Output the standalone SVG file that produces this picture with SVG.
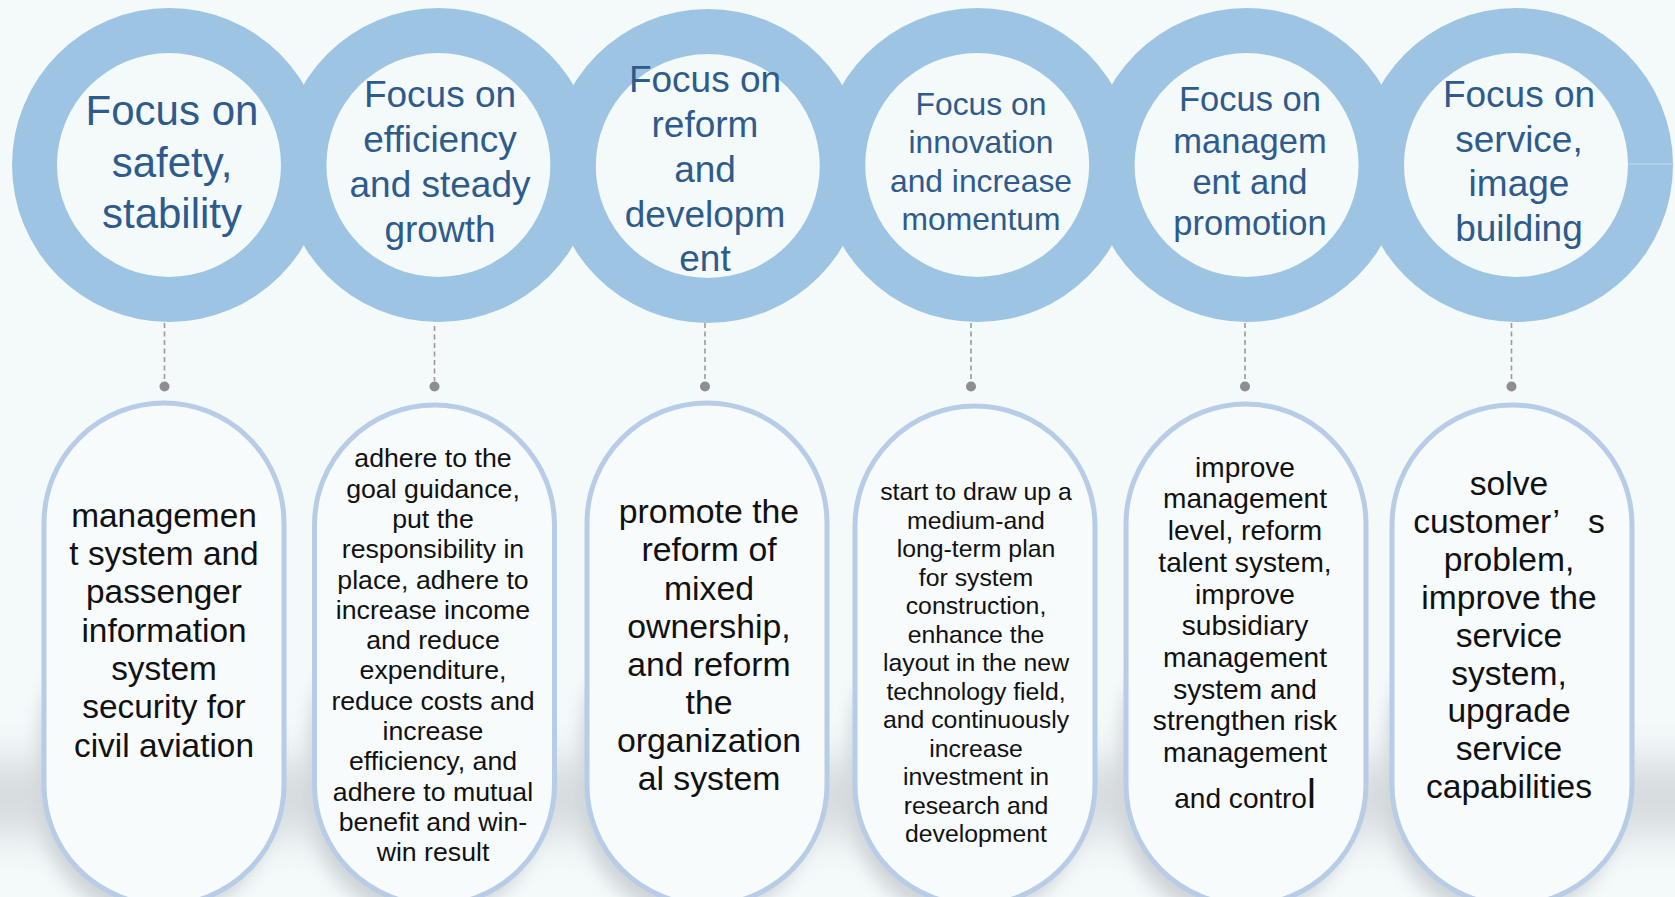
<svg xmlns="http://www.w3.org/2000/svg" width="1675" height="897" viewBox="0 0 1675 897">
<defs>
<style>
.ring{fill:#9DC5E3;fill-rule:evenodd}
.rt{font-family:"Liberation Sans",Arial,sans-serif;fill:#2E5B8C;text-anchor:middle}
.pill{fill:#F7FBFC;stroke:#B7CCE6;stroke-width:5}
.pt{font-family:"Liberation Sans",Arial,sans-serif;fill:#111;text-anchor:middle}
.dash{stroke:#9A9A9A;stroke-width:1.6;stroke-dasharray:5 3.5;fill:none}
.dot{fill:#8E8E8E}
.shadow{fill:#CDD3D7}
</style>
<filter id="blurBig" x="-10%" y="-100%" width="120%" height="300%"><feGaussianBlur stdDeviation="20"/></filter>
<filter id="blurSm" x="-20%" y="-20%" width="140%" height="140%"><feGaussianBlur stdDeviation="9"/></filter>
</defs>
<rect width="1675" height="897" fill="#F4F9FA"/>
<g id="floor-shadow">
<rect x="-60" y="760" width="1800" height="75" fill="#D7DCDF" filter="url(#blurBig)"/>
<rect x="40" y="620" width="232" height="300" rx="116" class="shadow" filter="url(#blurSm)"/>
<rect x="310" y="620" width="232" height="300" rx="116" class="shadow" filter="url(#blurSm)"/>
<rect x="582" y="620" width="232" height="300" rx="116" class="shadow" filter="url(#blurSm)"/>
<rect x="851" y="620" width="232" height="300" rx="116" class="shadow" filter="url(#blurSm)"/>
<rect x="1121" y="620" width="232" height="300" rx="116" class="shadow" filter="url(#blurSm)"/>
<rect x="1388" y="620" width="232" height="300" rx="116" class="shadow" filter="url(#blurSm)"/>
</g>
<g id="ring1">
<path class="ring" d="M12,165a157,157 0 1,0 314,0a157,157 0 1,0 -314,0ZM57,165a112,112 0 1,0 224,0a112,112 0 1,0 -224,0Z"/>
<text class="rt" font-size="42"><tspan x="172" y="125">Focus on</tspan><tspan x="172" y="177">safety,</tspan><tspan x="172" y="228">stability</tspan></text>
</g>
<g id="ring2">
<path class="ring" d="M281.4,165a157,157 0 1,0 314,0a157,157 0 1,0 -314,0ZM326.4,165a112,112 0 1,0 224,0a112,112 0 1,0 -224,0Z"/>
<text class="rt" font-size="37"><tspan x="440" y="107">Focus on</tspan><tspan x="440" y="152">efficiency</tspan><tspan x="440" y="197">and steady</tspan><tspan x="440" y="242">growth</tspan></text>
</g>
<g id="ring3">
<path class="ring" d="M550.8,166a157,157 0 1,0 314,0a157,157 0 1,0 -314,0ZM595.8,166a112,112 0 1,0 224,0a112,112 0 1,0 -224,0Z"/>
<text class="rt" font-size="37"><tspan x="705" y="92">Focus on</tspan><tspan x="705" y="137">reform</tspan><tspan x="705" y="182">and</tspan><tspan x="705" y="227">developm</tspan><tspan x="705" y="271">ent</tspan></text>
</g>
<g id="ring4">
<path class="ring" d="M820.2,165a157,157 0 1,0 314,0a157,157 0 1,0 -314,0ZM865.2,165a112,112 0 1,0 224,0a112,112 0 1,0 -224,0Z"/>
<text class="rt" font-size="31.8"><tspan x="981" y="115">Focus on</tspan><tspan x="981" y="153">innovation</tspan><tspan x="981" y="192">and increase</tspan><tspan x="981" y="230">momentum</tspan></text>
</g>
<g id="ring5">
<path class="ring" d="M1089.6,165a157,157 0 1,0 314,0a157,157 0 1,0 -314,0ZM1134.6,165a112,112 0 1,0 224,0a112,112 0 1,0 -224,0Z"/>
<text class="rt" font-size="34.5"><tspan x="1250" y="111">Focus on</tspan><tspan x="1250" y="153">managem</tspan><tspan x="1250" y="194">ent and</tspan><tspan x="1250" y="235">promotion</tspan></text>
</g>
<g id="ring6">
<path class="ring" d="M1359,165a157,157 0 1,0 314,0a157,157 0 1,0 -314,0ZM1404,165a112,112 0 1,0 224,0a112,112 0 1,0 -224,0Z"/>
<line x1="1628" y1="164" x2="1674" y2="164" stroke="#C4DBEE" stroke-width="1"/>
<text class="rt" font-size="37"><tspan x="1519" y="107">Focus on</tspan><tspan x="1519" y="152">service,</tspan><tspan x="1519" y="196">image</tspan><tspan x="1519" y="241">building</tspan></text>
</g>
<g id="connectors">
<line class="dash" x1="164.5" y1="323" x2="164.5" y2="381"/>
<line class="dash" x1="434.5" y1="326" x2="434.5" y2="381"/>
<line class="dash" x1="705" y1="323" x2="705" y2="381"/>
<line class="dash" x1="971" y1="323" x2="971" y2="381"/>
<line class="dash" x1="1245" y1="323" x2="1245" y2="381"/>
<line class="dash" x1="1511.5" y1="323" x2="1511.5" y2="381"/>
<circle class="dot" cx="164.5" cy="386.5" r="5"/>
<circle class="dot" cx="434.5" cy="386.5" r="5"/>
<circle class="dot" cx="705" cy="386.5" r="5"/>
<circle class="dot" cx="971" cy="386.5" r="5"/>
<circle class="dot" cx="1245" cy="386.5" r="5"/>
<circle class="dot" cx="1511.5" cy="386.5" r="5"/>
</g>
<g id="pill1">
<rect class="pill" x="44" y="403" width="240" height="502" rx="120"/>
<text class="pt" font-size="33.4"><tspan x="164" y="526.7">managemen</tspan><tspan x="164" dy="38.3">t system and</tspan><tspan x="164" dy="38.3">passenger</tspan><tspan x="164" dy="38.3">information</tspan><tspan x="164" dy="38.3">system</tspan><tspan x="164" dy="38.3">security for</tspan><tspan x="164" dy="38.3">civil aviation</tspan></text>
</g>
<g id="pill2">
<rect class="pill" x="314.5" y="405" width="240" height="500" rx="120"/>
<text class="pt" font-size="26.7"><tspan x="433" y="467.3">adhere to the</tspan><tspan x="433" dy="30.3">goal guidance,</tspan><tspan x="433" dy="30.3">put the</tspan><tspan x="433" dy="30.3">responsibility in</tspan><tspan x="433" dy="30.3">place, adhere to</tspan><tspan x="433" dy="30.3">increase income</tspan><tspan x="433" dy="30.3">and reduce</tspan><tspan x="433" dy="30.3">expenditure,</tspan><tspan x="433" dy="30.3">reduce costs and</tspan><tspan x="433" dy="30.3">increase</tspan><tspan x="433" dy="30.3">efficiency, and</tspan><tspan x="433" dy="30.3">adhere to mutual</tspan><tspan x="433" dy="30.3">benefit and win-</tspan><tspan x="433" dy="30.3">win result</tspan></text>
</g>
<g id="pill3">
<rect class="pill" x="587" y="403" width="240" height="502" rx="120"/>
<text class="pt" font-size="33.8"><tspan x="709" y="523.3">promote the</tspan><tspan x="709" dy="38.1">reform of</tspan><tspan x="709" dy="38.1">mixed</tspan><tspan x="709" dy="38.1">ownership,</tspan><tspan x="709" dy="38.1">and reform</tspan><tspan x="709" dy="38.1">the</tspan><tspan x="709" dy="38.1">organization</tspan><tspan x="709" dy="38.1">al system</tspan></text>
</g>
<g id="pill4">
<rect class="pill" x="855" y="406" width="240" height="499" rx="120"/>
<text class="pt" font-size="24.8"><tspan x="976" y="500">start to draw up a</tspan><tspan x="976" dy="28.5">medium-and</tspan><tspan x="976" dy="28.5">long-term plan</tspan><tspan x="976" dy="28.5">for system</tspan><tspan x="976" dy="28.5">construction,</tspan><tspan x="976" dy="28.5">enhance the</tspan><tspan x="976" dy="28.5">layout in the new</tspan><tspan x="976" dy="28.5">technology field,</tspan><tspan x="976" dy="28.5">and continuously</tspan><tspan x="976" dy="28.5">increase</tspan><tspan x="976" dy="28.5">investment in</tspan><tspan x="976" dy="28.5">research and</tspan><tspan x="976" dy="28.5">development</tspan></text>
</g>
<g id="pill5">
<rect class="pill" x="1126" y="404" width="240" height="501" rx="120"/>
<text class="pt" font-size="28.1"><tspan x="1245" y="476.7">improve</tspan><tspan x="1245" dy="31.7">management</tspan><tspan x="1245" dy="31.7">level, reform</tspan><tspan x="1245" dy="31.7">talent system,</tspan><tspan x="1245" dy="31.7">improve</tspan><tspan x="1245" dy="31.7">subsidiary</tspan><tspan x="1245" dy="31.7">management</tspan><tspan x="1245" dy="31.7">system and</tspan><tspan x="1245" dy="31.7">strengthen risk</tspan><tspan x="1245" dy="31.7">management</tspan><tspan x="1245" y="808">and contro<tspan font-size="40">l</tspan></tspan></text>
</g>
<g id="pill6">
<rect class="pill" x="1392" y="405" width="240" height="500" rx="120"/>
<text class="pt" font-size="33.6"><tspan x="1509" y="495">solve</tspan><tspan x="1509" dy="37.9">customer’<tspan dx="20"> s</tspan></tspan><tspan x="1509" dy="37.9">problem,</tspan><tspan x="1509" dy="37.9">improve the</tspan><tspan x="1509" dy="37.9">service</tspan><tspan x="1509" dy="37.9">system,</tspan><tspan x="1509" dy="37.9">upgrade</tspan><tspan x="1509" dy="37.9">service</tspan><tspan x="1509" dy="37.9">capabilities</tspan></text>
</g>
</svg>
